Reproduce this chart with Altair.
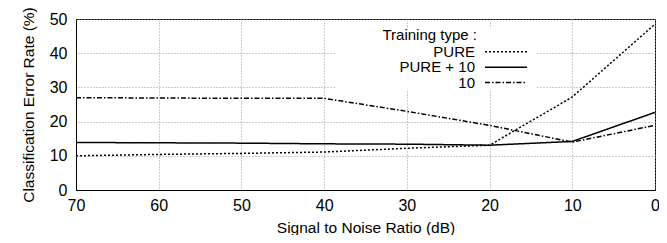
import altair as alt
import pandas as pd

snr = [70, 60, 50, 40, 30, 20, 10, 0]
pure = [10.0, 10.4, 10.7, 11.1, 12.2, 13.1, 27.2, 48.5]
pure10 = [13.9, 13.8, 13.7, 13.5, 13.4, 13.1, 14.2, 22.7]
ten = [27.0, 26.9, 26.8, 26.8, 23.0, 18.9, 14.0, 18.9]
series = ["PURE", "PURE + 10", "10"]
dashes = [[2, 2], [1, 0], [5, 2, 1.5, 2]]
legend_title = "Training type :"

rows = []
for name, vals in zip(series, [pure, pure10, ten]):
    for s, v in zip(snr, vals):
        rows.append({"snr": s, "err": v, "type": name})
df = pd.DataFrame(rows)

FONT = "Liberation Sans"
W, H = 579, 171

lines = alt.Chart(df).mark_line(color="black", strokeWidth=1.5).encode(
    x=alt.X("snr:Q", scale=alt.Scale(domain=[0, 70], reverse=True, nice=False),
            axis=alt.Axis(values=list(range(0, 71, 10)), title="Signal to Noise Ratio (dB)",
                          labelPadding=7, titlePadding=7, labelFlush=False)),
    y=alt.Y("err:Q", scale=alt.Scale(domain=[0, 50], nice=False),
            axis=alt.Axis(values=list(range(0, 51, 10)), title="Classification Error Rate (%)",
                          labelPadding=9, titlePadding=13, labelFlush=False)),
    strokeDash=alt.StrokeDash("type:N", scale=alt.Scale(domain=series, range=dashes), legend=None),
    detail="type:N",
)

# legend box (white, no border), drawn in plot pixel coordinates
box = alt.Chart(pd.DataFrame({"a": [0]})).mark_rect(color="white").encode(
    x=alt.value(259), x2=alt.value(461), y=alt.value(9.5), y2=alt.value(70.5)
)

legend_layers = [box]
legend_layers.append(
    alt.Chart(pd.DataFrame({"label": [legend_title]})).mark_text(
        align="right", baseline="middle", font=FONT, fontSize=15, color="black"
    ).encode(x=alt.value(401), y=alt.value(16), text="label:N")
)
row_y = [32.8, 48.2, 63.6]
for name, d, yy in zip(series, dashes, row_y):
    legend_layers.append(
        alt.Chart(pd.DataFrame({"label": [name]})).mark_text(
            align="right", baseline="middle", font=FONT, fontSize=15, color="black"
        ).encode(x=alt.value(399), y=alt.value(yy), text="label:N")
    )
    legend_layers.append(
        alt.Chart(pd.DataFrame({"label": [name]})).mark_rule(
            color="black", strokeWidth=1.5, strokeDash=d
        ).encode(x=alt.value(409), x2=alt.value(451), y=alt.value(yy))
    )

chart = alt.layer(*legend_layers[:1], lines, *legend_layers[1:]).properties(
    width=W, height=H,
    autosize=alt.AutoSizeParams(type="none"),
    padding={"left": 68, "top": 11, "right": 4, "bottom": 45},
).configure_view(
    stroke="black", strokeWidth=1
).configure_axis(
    labelFont=FONT, labelFontSize=16, labelColor="black",
    titleFont=FONT, titleFontSize=15.5, titleColor="black", titleFontWeight="normal",
    grid=True, gridColor="#999999", gridDash=[1, 2], gridWidth=1,
    domain=True, domainColor="black", ticks=False,
)

chart.save("out.html", embed_options={"renderer": "svg", "actions": False})
